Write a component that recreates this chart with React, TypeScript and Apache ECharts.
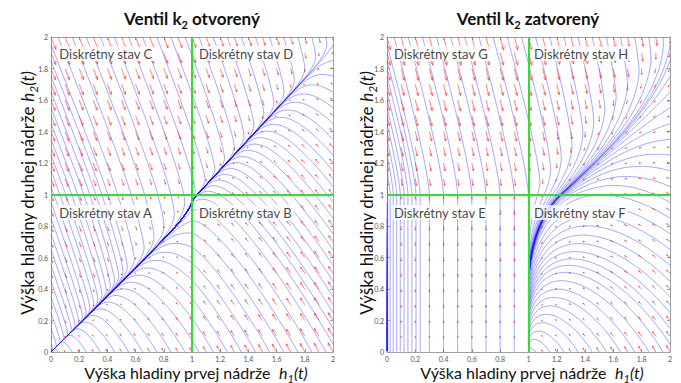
import React, { useEffect, useRef } from "react";
import * as echarts from "echarts";

// ---- axis ticks ----
const H_TICKS = [0, 0.2, 0.4, 0.6, 0.8, 1, 1.2, 1.4, 1.6, 1.8, 2];
const TICK_LABELS = ["0", "0.2", "0.4", "0.6", "0.8", "1", "1.2", "1.4", "1.6", "1.8", "2"];

// ---- panel texts ----
const PANEL_TITLES = [
  ["Ventil k", "2", " otvorený"],
  ["Ventil k", "2", " zatvorený"],
];
const STATE_LETTERS = [
  ["A", "B", "C", "D"],
  ["E", "F", "G", "H"],
];
const X_TITLE = ["Výška hladiny prvej nádrže  ", "h", "1", "(t)"];
const Y_TITLE = ["Výška hladiny druhej nádrže ", "h", "2", "(t)"];

// ---- two-tank hybrid model ----
const PIPE_LEVEL = [1]; // switching level of h1 and h2
const VALVE_K1 = [1.0]; // connecting pipe at level 1
const VALVE_K2 = [1.36, 0]; // bottom valve k2: open (left), closed (right)
const VALVE_K3 = [0.72]; // outflow of tank 2
const AREA_RATIO = [0.6]; // tank 2 / tank 1 cross-section

// ---- streamline seeds (on the frame) and quiver grid ----
const EDGE_SEEDS = [0.05, 0.15, 0.25, 0.35, 0.45, 0.55, 0.65, 0.75, 0.85, 0.95, 1.05, 1.15, 1.25, 1.35, 1.45, 1.55, 1.65, 1.75, 1.85, 1.95];
const QUIVER_LEVELS = [0, 0.1, 0.2, 0.3, 0.4, 0.5, 0.6, 0.7, 0.8, 0.9, 1, 1.1, 1.2, 1.3, 1.4, 1.5, 1.6, 1.7, 1.8, 1.9, 2];

function field(h1: number, h2: number, k2: number): [number, number] {
  const L = PIPE_LEVEL[0];
  const d = h1 - h2;
  let q = k2 * Math.sign(d) * Math.sqrt(Math.abs(d));
  const u = Math.max(h1 - L, 0) - Math.max(h2 - L, 0);
  q += VALVE_K1[0] * Math.sign(u) * Math.sqrt(Math.abs(u));
  const out = VALVE_K3[0] * Math.sqrt(Math.max(h2, 0));
  return [-q, (q - out) / AREA_RATIO[0]];
}

function trace(x0: number, y0: number, k2: number): number[][] {
  let x = x0, y = y0;
  const pts: number[][] = [[x, y]];
  const ds = 0.004;
  for (let i = 0; i < 2500; i++) {
    const v = field(x, y, k2);
    const s = Math.hypot(v[0], v[1]);
    if (s < 1e-7) break;
    const mx = x + 0.5 * ds * v[0] / s, my = y + 0.5 * ds * v[1] / s;
    const w = field(mx, my, k2);
    const s2 = Math.hypot(w[0], w[1]);
    if (s2 < 1e-7) break;
    const nx = x + ds * w[0] / s2, ny = y + ds * w[1] / s2;
    if (nx < 0 || nx > 2 || ny < 0 || ny > 2) {
      if (i > 0) pts.push([Math.min(2, Math.max(0, nx)), Math.min(2, Math.max(0, ny))]);
      break;
    }
    x = nx; y = ny;
    if (i % 2 === 1) pts.push([x, y]);
    if (x < 0.006 && y < 0.006) { pts.push([x, y]); break; }
  }
  return pts;
}

function tickLabel(v: number) {
  const i = H_TICKS.findIndex((t) => Math.abs(t - v) < 1e-6);
  return i >= 0 ? TICK_LABELS[i] : "";
}

const FONT = "Lato";

function buildOption() {
  const ctx = document.createElement("canvas").getContext("2d")!;
  type Part = { t: string; size: number; weight?: string; style?: string; dy?: number };
  const row = (parts: Part[], cx: number, cy: number, rotation = 0) => {
    const widths = parts.map((p) => {
      ctx.font = `${p.style || "normal"} ${p.weight || "normal"} ${p.size}px ${FONT}`;
      return ctx.measureText(p.t).width;
    });
    const W = widths.reduce((a, b) => a + b, 0);
    let x = -W / 2;
    const children = parts.map((p, i) => {
      const c = {
        type: "text",
        x,
        y: p.dy || 0,
        style: {
          text: p.t,
          fontSize: p.size,
          fontFamily: FONT,
          fontWeight: p.weight || "normal",
          fontStyle: p.style || "normal",
          fill: "#111",
          align: "left",
          verticalAlign: "middle",
          textAlign: "left",
          textVerticalAlign: "middle",
        },
      };
      x += widths[i];
      return c;
    });
    return { type: "group", x: cx, y: cy, rotation, children };
  };

  const grids = [
    { left: 51, top: 37, width: 282, height: 315 },
    { left: 387, top: 37, width: 283, height: 315 },
  ];
  const axisBase = (show: boolean) => ({
    type: "value",
    min: 0,
    max: 2,
    interval: 0.2,
    splitLine: { show: false },
    axisLine: { show: true, onZero: false, lineStyle: { color: "#a0a0a0", width: 1 } },
    axisTick: { show: true, inside: true, length: 3, lineStyle: { color: "#a0a0a0" } },
    axisLabel: { show, fontSize: 7, color: "#555", fontFamily: FONT, margin: 3, formatter: tickLabel },
  });
  const xAxis: any[] = [];
  const yAxis: any[] = [];
  grids.forEach((_, g) => {
    xAxis.push({ ...axisBase(true), gridIndex: g, position: "bottom" });
    xAxis.push({ ...axisBase(false), gridIndex: g, position: "top" });
    yAxis.push({ ...axisBase(true), gridIndex: g, position: "left" });
    yAxis.push({ ...axisBase(false), gridIndex: g, position: "right" });
  });

  const series: any[] = [];
  const labelPos = [
    [[0.045, 0.885], [1.035, 0.885], [0.045, 1.895], [1.035, 1.895]],
    [[0.035, 0.885], [1.025, 0.885], [0.035, 1.895], [1.025, 1.895]],
  ];
  [0, 1].forEach((p) => {
    const k2 = VALVE_K2[p];
    const lines: any[] = [];
    const seeds: number[][] = [];
    EDGE_SEEDS.forEach((s) => {
      seeds.push([s, 2], [2, s], [0, s], [s, 0]);
    });
    seeds.forEach(([sx, sy]) => {
      const c = trace(sx, sy, k2);
      if (c.length > 3) lines.push({ coords: c });
    });
    const vecs: number[][] = [];
    let maxMag = 0;
    QUIVER_LEVELS.forEach((x) =>
      QUIVER_LEVELS.forEach((y) => {
        const v = field(x, y, k2);
        maxMag = Math.max(maxMag, Math.hypot(v[0], v[1]));
        vecs.push([x, y, v[0], v[1]]);
      })
    );
    const sc = 0.085 / maxMag;
    const quiver = vecs.map((d) => [d[0], d[1], d[2] * sc, d[3] * sc]);

    series.push({
      type: "lines",
      coordinateSystem: "cartesian2d",
      xAxisIndex: 2 * p,
      yAxisIndex: 2 * p,
      polyline: true,
      silent: true,
      z: 2,
      lineStyle: { color: "#2020ff", opacity: 0.5, width: 0.8 },
      data: lines,
    });
    series.push({
      type: "custom",
      coordinateSystem: "cartesian2d",
      xAxisIndex: 2 * p,
      yAxisIndex: 2 * p,
      silent: true,
      clip: true,
      z: 3,
      encode: { x: 0, y: 1 },
      data: quiver,
      renderItem: (params: any, api: any) => {
        const x = api.value(0), y = api.value(1), u = api.value(2), v = api.value(3);
        const p0 = api.coord([x, y]);
        const p1 = api.coord([x + u, y + v]);
        const dx = p1[0] - p0[0], dy = p1[1] - p0[1];
        const L = Math.hypot(dx, dy);
        if (L < 0.4) return null;
        const hl = Math.max(1.2, L * 0.3);
        const ang = Math.atan2(dy, dx);
        const a1 = ang + Math.PI - 0.42, a2 = ang + Math.PI + 0.42;
        const q1 = [p1[0] + hl * Math.cos(a1), p1[1] + hl * Math.sin(a1)];
        const q2 = [p1[0] + hl * Math.cos(a2), p1[1] + hl * Math.sin(a2)];
        const st = { stroke: "rgba(255,30,30,0.55)", lineWidth: 1, fill: null };
        return {
          type: "group",
          children: [
            { type: "polyline", shape: { points: [p0, p1] }, style: st },
            { type: "polyline", shape: { points: [q1, p1, q2] }, style: st },
          ],
        };
      },
    });
    series.push({
      type: "lines",
      coordinateSystem: "cartesian2d",
      xAxisIndex: 2 * p,
      yAxisIndex: 2 * p,
      silent: true,
      z: 4,
      lineStyle: { color: "#30e030", width: 2, opacity: 1 },
      data: [
        { coords: [[PIPE_LEVEL[0], 0], [PIPE_LEVEL[0], 2]] },
        { coords: [[0, PIPE_LEVEL[0]], [2, PIPE_LEVEL[0]]] },
      ],
    });
    series.push({
      type: "scatter",
      xAxisIndex: 2 * p,
      yAxisIndex: 2 * p,
      silent: true,
      z: 6,
      symbolSize: 0,
      itemStyle: { color: "rgba(0,0,0,0)" },
      label: {
        show: true,
        position: "right",
        distance: 0,
        formatter: (d: any) => "Diskrétny stav " + d.value[2],
        fontSize: 13,
        fontFamily: FONT,
        color: "#111",
        backgroundColor: "#fff",
        padding: [1, 2, 1, 2],
      },
      data: STATE_LETTERS[p].map((s, i) => [labelPos[p][i][0], labelPos[p][i][1], s]),
    });
  });

  const graphic: any[] = [];
  const centers = [192, 528];
  [0, 1].forEach((p) => {
    const t = PANEL_TITLES[p];
    graphic.push(
      row(
        [
          { t: t[0], size: 17, weight: "bold" },
          { t: t[1], size: 11, weight: "bold", dy: 6 },
          { t: t[2], size: 17, weight: "bold" },
        ],
        centers[p],
        18
      )
    );
    graphic.push(
      row(
        [
          { t: X_TITLE[0], size: 16 },
          { t: X_TITLE[1], size: 16, style: "italic" },
          { t: X_TITLE[2], size: 11, style: "italic", dy: 6 },
          { t: X_TITLE[3], size: 16, style: "italic" },
        ],
        centers[p] + 4,
        372
      )
    );
    graphic.push(
      row(
        [
          { t: Y_TITLE[0], size: 17 },
          { t: Y_TITLE[1], size: 17, style: "italic" },
          { t: Y_TITLE[2], size: 12, style: "italic", dy: 6 },
          { t: Y_TITLE[3], size: 17, style: "italic" },
        ],
        p === 0 ? 27 : 366,
        193,
        Math.PI / 2
      )
    );
  });

  return {
    animation: false,
    backgroundColor: "#fff",
    grid: grids,
    xAxis,
    yAxis,
    series,
    graphic,
  };
}

export default function App() {
  const ref = useRef<HTMLDivElement>(null);
  useEffect(() => {
    const chart = echarts.init(ref.current!, null, { renderer: "svg" });
    chart.setOption(buildOption() as any);
    return () => chart.dispose();
  }, []);
  return (
    <div
      ref={ref}
      style={{ position: "fixed", left: 0, top: 0, width: 681, height: 383, background: "#fff" }}
    />
  );
}
